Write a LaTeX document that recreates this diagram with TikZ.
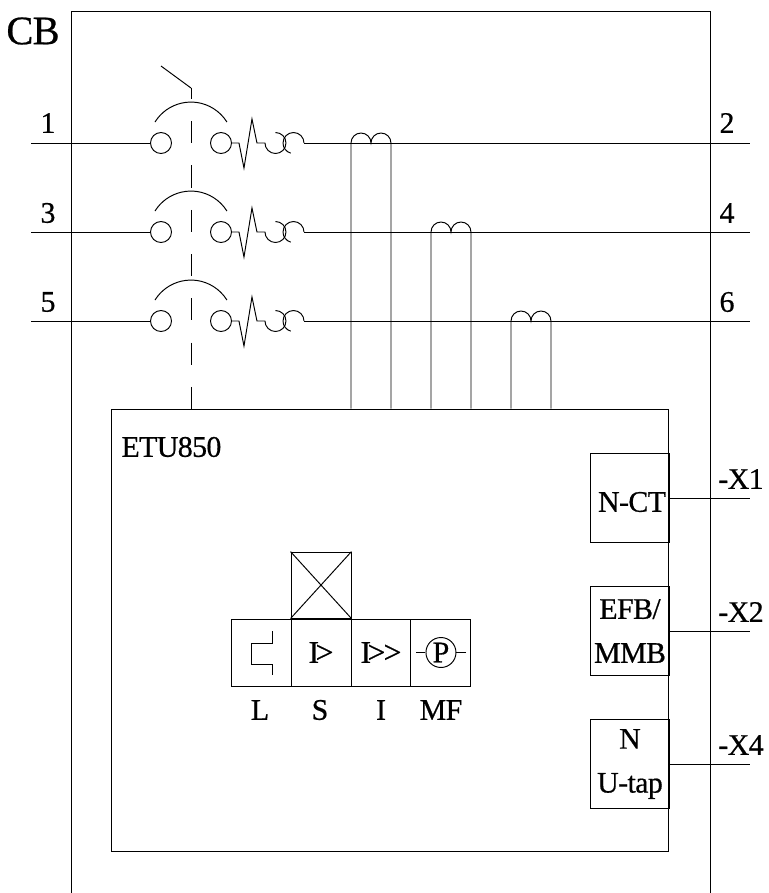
\documentclass[tikz,border=0pt]{standalone}
\usepackage{fontspec}
\setmainfont{Liberation Serif}[LetterSpace=-2,RawFeature={embolden=0.6}]
\begin{document}
\begin{tikzpicture}[
  x=0.02cm, y=-0.02cm,
  line width=0.55pt,
  contact/.style={circle, draw, minimum size=0.42cm, inner sep=0pt},
  block/.style={rectangle, draw, minimum width=1.58cm, minimum height=1.78cm, inner sep=0pt, align=center, font=\fontsize{17}{25}\selectfont},
  trip/.style={rectangle, draw, minimum width=1.2cm, minimum height=1.34cm, inner sep=0pt, font=\fontsize{18}{20}\selectfont},
  tag/.style={inner sep=0pt, font=\fontsize{17}{20}\selectfont},
  node distance=1.2cm
]
\useasboundingbox (0,0) rectangle (768,893);

% breaker frame
\coordinate (cbbl) at (71,893);
\coordinate (cbbr) at (710,893);
\draw (cbbl) -- (71,11) -- (710,11) -- (cbbr);
\node[tag, font=\fontsize{23}{25}\selectfont] (cb) at (33,31) {CB};

% release unit
\node[rectangle, draw, minimum width=11.16cm, minimum height=8.86cm, inner sep=0pt] (etu) at (390,630.5) {};
\node[tag, anchor=west] (etuname) at (121,447) {ETU850};

% contacts
\node[contact] (a1) at (161,143) {};
\node[contact] (b1) at (221,143) {};
\node[contact] (a2) at (161,232) {};
\node[contact] (b2) at (221,232) {};
\node[contact] (a3) at (161,321) {};
\node[contact] (b3) at (221,321) {};

\coordinate (in1) at (31,143);
\coordinate (in2) at (31,232);
\coordinate (in3) at (31,321);
\coordinate (out1) at (750,143);
\coordinate (out2) at (750,232);
\coordinate (out3) at (750,321);
\coordinate (c1) at (304,143);
\coordinate (c2) at (304,232);
\coordinate (c3) at (304,321);
\coordinate (ct1) at (351,143);
\coordinate (ct2) at (431,232);
\coordinate (ct3) at (511,321);
\coordinate (ctr1) at (391,143);
\coordinate (ctr2) at (471,232);
\coordinate (ctr3) at (551,321);

\node[tag] (n1) at (48,123) {1};
\node[tag] (n2) at (727,123) {2};
\node[tag] (n3) at (48,213) {3};
\node[tag] (n4) at (727,213) {4};
\node[tag] (n5) at (48,302) {5};
\node[tag] (n6) at (727,302) {6};

\draw (in1) -- (a1);
\draw (in2) -- (a2);
\draw (in3) -- (a3);
\draw (c1) -- (out1);
\draw (c2) -- (out2);
\draw (c3) -- (out3);

% contact bridges
\draw (155,122) arc[start angle=148, end angle=32, radius=0.848cm];
\draw (155,211) arc[start angle=148, end angle=32, radius=0.848cm];
\draw (155,300) arc[start angle=148, end angle=32, radius=0.848cm];

% thermal and magnetic parts
\draw (b1.east) -- ++(7,0) -- ++(5,25) -- ++(8,-49) -- ++(5,24) -- ++(8,0) arc[start angle=180, end angle=450, radius=0.21cm];
\draw (b2.east) -- ++(7,0) -- ++(5,25) -- ++(8,-49) -- ++(5,24) -- ++(8,0) arc[start angle=180, end angle=450, radius=0.21cm];
\draw (b3.east) -- ++(7,0) -- ++(5,25) -- ++(8,-49) -- ++(5,24) -- ++(8,0) arc[start angle=180, end angle=450, radius=0.21cm];
\draw (c1) arc[start angle=0, end angle=255, radius=0.21cm];
\draw (c2) arc[start angle=0, end angle=255, radius=0.21cm];
\draw (c3) arc[start angle=0, end angle=255, radius=0.21cm];

% current transformers
\draw (ct1 |- etu.north) -- (ct1) arc[start angle=180, end angle=0, radius=0.2cm] arc[start angle=180, end angle=0, radius=0.2cm] -- (ctr1 |- etu.north);
\draw (ct2 |- etu.north) -- (ct2) arc[start angle=180, end angle=0, radius=0.2cm] arc[start angle=180, end angle=0, radius=0.2cm] -- (ctr2 |- etu.north);
\draw (ct3 |- etu.north) -- (ct3) arc[start angle=180, end angle=0, radius=0.2cm] arc[start angle=180, end angle=0, radius=0.2cm] -- (ctr3 |- etu.north);

% operating lever
\coordinate (lever) at (161,66);
\coordinate (pivot) at (191,88);
\draw (lever) -- (pivot);
\draw[dash pattern=on 12.6pt off 12.6pt, dash phase=6.3pt] (pivot) -- (pivot |- etu.north);

% right hand modules
\node[block] (nct) at (630,498) {};
\node[tag] (nctname) at (632,502) {N-CT};
\node[block] (efb) at (630,631) {EFB/\\MMB};
\node[block] (utap) at (630,764) {N\\U-tap};
\coordinate (x1) at (750,498);
\coordinate (x2) at (750,631);
\coordinate (x4) at (750,764);
\draw (nct) -- (x1);
\draw (efb) -- (x2);
\draw (utap) -- (x4);
\node[tag] (x1txt) at (741,479) {-X1};
\node[tag] (x2txt) at (741,612) {-X2};
\node[tag] (x4txt) at (741,745) {-X4};

% trip settings
\node[trip] (l) at (261,652.5) {};
\node[trip, right of=l] (s) {I\kern-2pt>};
\node[trip, right of=s] (i) {I\kern-2pt>\kern-1pt>};
\node[trip, right of=i] (mf) {};
\node[rectangle, draw, minimum width=1.2cm, minimum height=1.32cm, inner sep=0pt, anchor=south] (flag) at (s.north) {};
\draw (flag.north west) -- (flag.south east);
\draw (flag.north east) -- (flag.south west);
\draw[line width=0.4pt] (272,631) -- (272,643) -- (251,643) -- (251,664) -- (272,664) -- (272,675);
\node[circle, draw, minimum size=0.6cm, inner sep=0pt, font=\fontsize{17}{20}\selectfont] (p) at (mf) {P};
\coordinate (pl) at (416,652.5);
\coordinate (pr) at (466,652.5);
\draw[line width=0.4pt] (pl) -- (p);
\draw[line width=0.4pt] (pr) -- (p);

\node[tag] (ltxt) at (260,710) {L};
\node[tag] (stxt) at (320,710) {S};
\node[tag] (itxt) at (381,710) {I};
\node[tag] (mftxt) at (441,710) {MF};
\end{tikzpicture}
\end{document}
